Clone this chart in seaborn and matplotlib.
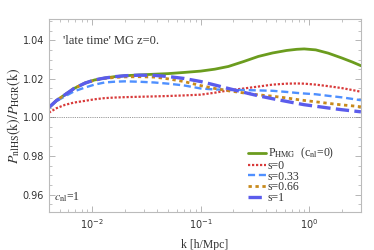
import numpy as np
import pandas as pd
import matplotlib
matplotlib.use("Agg")
import matplotlib.pyplot as plt
from matplotlib.ticker import LogLocator, MultipleLocator, NullFormatter
import seaborn as sns

# data
k = [0.004, 0.0047, 0.0056, 0.0068, 0.0086, 0.0105, 0.013, 0.016, 0.02,
     0.027, 0.0375, 0.05, 0.07, 0.1, 0.135, 0.18, 0.25, 0.34, 0.46, 0.62,
     0.77, 0.9, 1.15, 1.5, 2.0, 2.5, 3.0]
p_hmg = [1.0052, 1.0088, 1.0117, 1.0150, 1.0178, 1.0194, 1.0204, 1.0211,
         1.0216, 1.0220, 1.0224, 1.0227, 1.0233, 1.0240, 1.0250, 1.0264,
         1.0290, 1.0316, 1.0334, 1.0347, 1.0353, 1.0355, 1.0350, 1.0333,
         1.0308, 1.0287, 1.0268]
s_0 = [1.0025, 1.0048, 1.0065, 1.0077, 1.0086, 1.0094, 1.0100, 1.0103,
       1.0105, 1.0107, 1.0109, 1.0111, 1.0114, 1.0118, 1.0128, 1.0140,
       1.0150, 1.0160, 1.0170, 1.0175, 1.0176, 1.0175, 1.0170, 1.0162,
       1.0152, 1.0142, 1.0133]
s_033 = [1.0052, 1.0085, 1.0109, 1.0135, 1.0155, 1.0170, 1.0181, 1.0185,
         1.0187, 1.0185, 1.0181, 1.0175, 1.0166, 1.0150, 1.0145, 1.0143,
         1.0142, 1.0140, 1.0138, 1.0132, 1.0127, 1.0124, 1.0120, 1.0112,
         1.0104, 1.0096, 1.0089]
s_066 = [1.0052, 1.0088, 1.0117, 1.0150, 1.0178, 1.0193, 1.0202, 1.0207,
         1.0210, 1.0211, 1.0209, 1.0200, 1.0186, 1.0165, 1.0150, 1.0138,
         1.0127, 1.0117, 1.0110, 1.0101, 1.0093, 1.0088, 1.0081, 1.0073,
         1.0065, 1.0060, 1.0055]
s_1 = [1.0052, 1.0088, 1.0117, 1.0150, 1.0178, 1.0194, 1.0204, 1.0211,
       1.0216, 1.0219, 1.0218, 1.0212, 1.0202, 1.0186, 1.0168, 1.0150,
       1.0130, 1.0112, 1.0097, 1.0083, 1.0073, 1.0066, 1.0058, 1.0049,
       1.0040, 1.0034, 1.0029]

labels = [r"P$_{\rm HMG}$  (c$_{\rm nl}$=0)", "s=0", "s=0.33", "s=0.66", "s=1"]

sns.set_style("ticks")
plt.rcParams["mathtext.fontset"] = "stix"
plt.rcParams["font.family"] = ["DejaVu Sans"]

fig = plt.figure(figsize=(3.74, 2.5), dpi=100)
ax = fig.add_axes([0.131, 0.152, 0.834, 0.772])

ax.axhline(1.0, color="#777777", lw=0.6, ls=(0, (1, 1.2)), zorder=1)

styles = [
    dict(color="#6b9c1e", lw=2.0, linestyle="-"),
    dict(color="#d83a3a", lw=1.6, linestyle=(0, (1, 0.8))),
    dict(color="#4f90ff", lw=1.7, linestyle=(0, (3, 1.6))),
    dict(color="#c88a1c", lw=2.0, linestyle=(0, (1.2, 1.3))),
    dict(color="#5b5cec", lw=2.4, linestyle=(0, (4, 1.6))),
]
series = [p_hmg, s_0, s_033, s_066, s_1]

for vals, lab, st in zip(series, labels, styles):
    df = pd.DataFrame({"k": k, "ratio": vals})
    sns.lineplot(data=df, x="k", y="ratio", ax=ax, label=lab, **st)

ax.set_xscale("log")
ax.set_xlim(0.004, 3.0)
ax.set_ylim(0.951, 1.051)
ax.yaxis.set_major_locator(MultipleLocator(0.02))
ax.yaxis.set_minor_locator(MultipleLocator(0.005))
ax.xaxis.set_major_locator(LogLocator(base=10, numticks=10))
ax.xaxis.set_minor_locator(LogLocator(base=10, subs=np.arange(2, 10), numticks=20))
ax.xaxis.set_minor_formatter(NullFormatter())
ax.yaxis.set_major_formatter(matplotlib.ticker.FormatStrFormatter("%.2f"))

for sp in ax.spines.values():
    sp.set_color("#bbbbbb")
    sp.set_linewidth(0.8)
ax.tick_params(which="both", direction="in", top=True, right=True,
               color="#aaaaaa", labelsize=7, labelcolor="#333333")
ax.tick_params(which="major", length=4, width=0.6)
ax.tick_params(which="minor", length=2, width=0.5)

serif = ["Liberation Serif", "DejaVu Serif"]
ax.set_xlabel("k [h/Mpc]", family=serif, fontsize=8.5, color="#333333", labelpad=6)
ax.set_ylabel(r"$P_{\rm nlHS}({\rm k})/P_{\rm HGR}({\rm k})$", fontsize=10,
              color="#333333", labelpad=0)

ax.text(0.045, 0.87, "'late time' MG z=0.", transform=ax.transAxes,
        family=serif, fontsize=9, color="#333333")
ax.text(0.015, 0.06, r"$c_{\rm nl}$=1", transform=ax.transAxes,
        family=serif, fontsize=8.5, color="#333333")

leg = ax.legend(loc="lower left", bbox_to_anchor=(0.61, 0.0), frameon=False,
                handlelength=1.6, handletextpad=0.1, labelspacing=-0.12,
                borderaxespad=0.3, prop={"family": serif, "size": 8.5})
for t in leg.get_texts():
    t.set_color("#333333")

fig.savefig("out.png", dpi=100)
